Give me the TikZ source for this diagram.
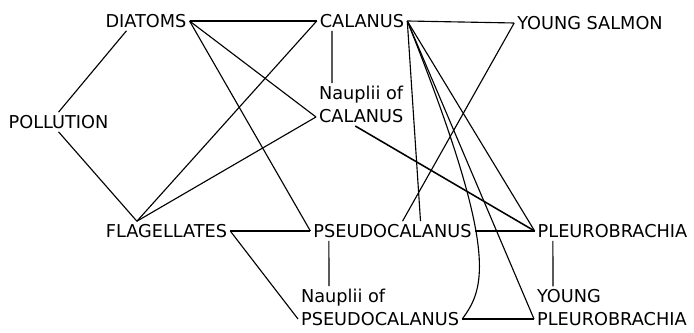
\documentclass[tikz,border=0pt]{standalone}
\usepackage{fontspec}
\setmainfont{DejaVu Sans}

\begin{document}
\begin{tikzpicture}[x=0.025cm,y=0.025cm,
    taxon/.style={inner sep=2pt,font=\fontsize{12.6}{16.3}\selectfont},
    twoline/.style={taxon,align=left,anchor=south west},
    feeds/.style={line width=0.8pt}]
  \useasboundingbox (0,0) rectangle (694,333);
  % upper levels
  \node[taxon] (diatoms) at (146,312) {DIATOMS};
  \node[taxon] (calanus) at (362,312) {CALANUS};
  \node[taxon] (salmon) at (590,310) {YOUNG SALMON};
  \node[taxon] (pollution) at (58.5,211) {POLLUTION};
  \node[twoline] (ncal) at (316,207) {Nauplii of\\CALANUS};
  % lower levels
  \node[taxon] (flag) at (166.5,102) {FLAGELLATES};
  \node[taxon] (pseudo) at (392.5,102) {PSEUDOCALANUS};
  \node[taxon] (pleuro) at (612.5,102) {PLEUROBRACHIA};
  \node[twoline] (npseudo) at (298,4) {Nauplii of\\PSEUDOCALANUS};
  \node[twoline] (ypleuro) at (534,4) {YOUNG\\PLEUROBRACHIA};

  % links
  \draw[feeds] ([xshift=0.6cm]diatoms.south west) -- (pollution.north);
  \draw[feeds] (pollution.south) -- ([xshift=-0.74cm]flag.north);
  \draw[feeds] (diatoms.east) -- (calanus.west);
  \draw[feeds] (diatoms.east) -- ([yshift=0.225cm]ncal.south west);
  \draw[feeds] (diatoms.east) -- (pseudo.west);
  \draw[feeds] (calanus.west) -- ([xshift=-0.74cm]flag.north);
  \draw[feeds] ([yshift=0.225cm]ncal.south west) -- ([xshift=-0.74cm]flag.north);
  \draw[feeds] (flag.east) -- (pseudo.west);
  \draw[feeds] (flag.east) -- ([yshift=0.25cm]npseudo.south west);
  \draw[feeds] ([xshift=-0.75cm]calanus.south) -- ([xshift=0.4cm]ncal.north west);
  \draw[feeds] ([xshift=-1.59cm]pseudo.south) -- ([xshift=0.775cm]npseudo.north west);
  \draw[feeds] ([xshift=-1.49cm]pleuro.south) -- ([xshift=0.475cm]ypleuro.north west);
  \draw[feeds] (calanus.east) -- (salmon.west);
  \draw[feeds] (salmon.west) -- ([xshift=0.25cm]pseudo.north);
  \draw[feeds] (calanus.east) -- ([xshift=0.7cm]pseudo.north);
  \draw[feeds] (calanus.east) -- (pleuro.west);
  \draw[feeds] (calanus.east) -- ([yshift=0.25cm]ypleuro.south west);
  \draw[feeds] (calanus.east) .. controls (500,80) and (485,45) .. ([yshift=0.25cm]npseudo.south east);
  \draw[feeds,line width=1.1pt] ([xshift=-0.15cm]ncal.south) -- (pleuro.west);
  \draw[feeds] (pseudo.east) -- (pleuro.west);
  \draw[feeds] ([yshift=0.25cm]npseudo.south east) -- ([yshift=0.25cm]ypleuro.south west);
\end{tikzpicture}
\end{document}
